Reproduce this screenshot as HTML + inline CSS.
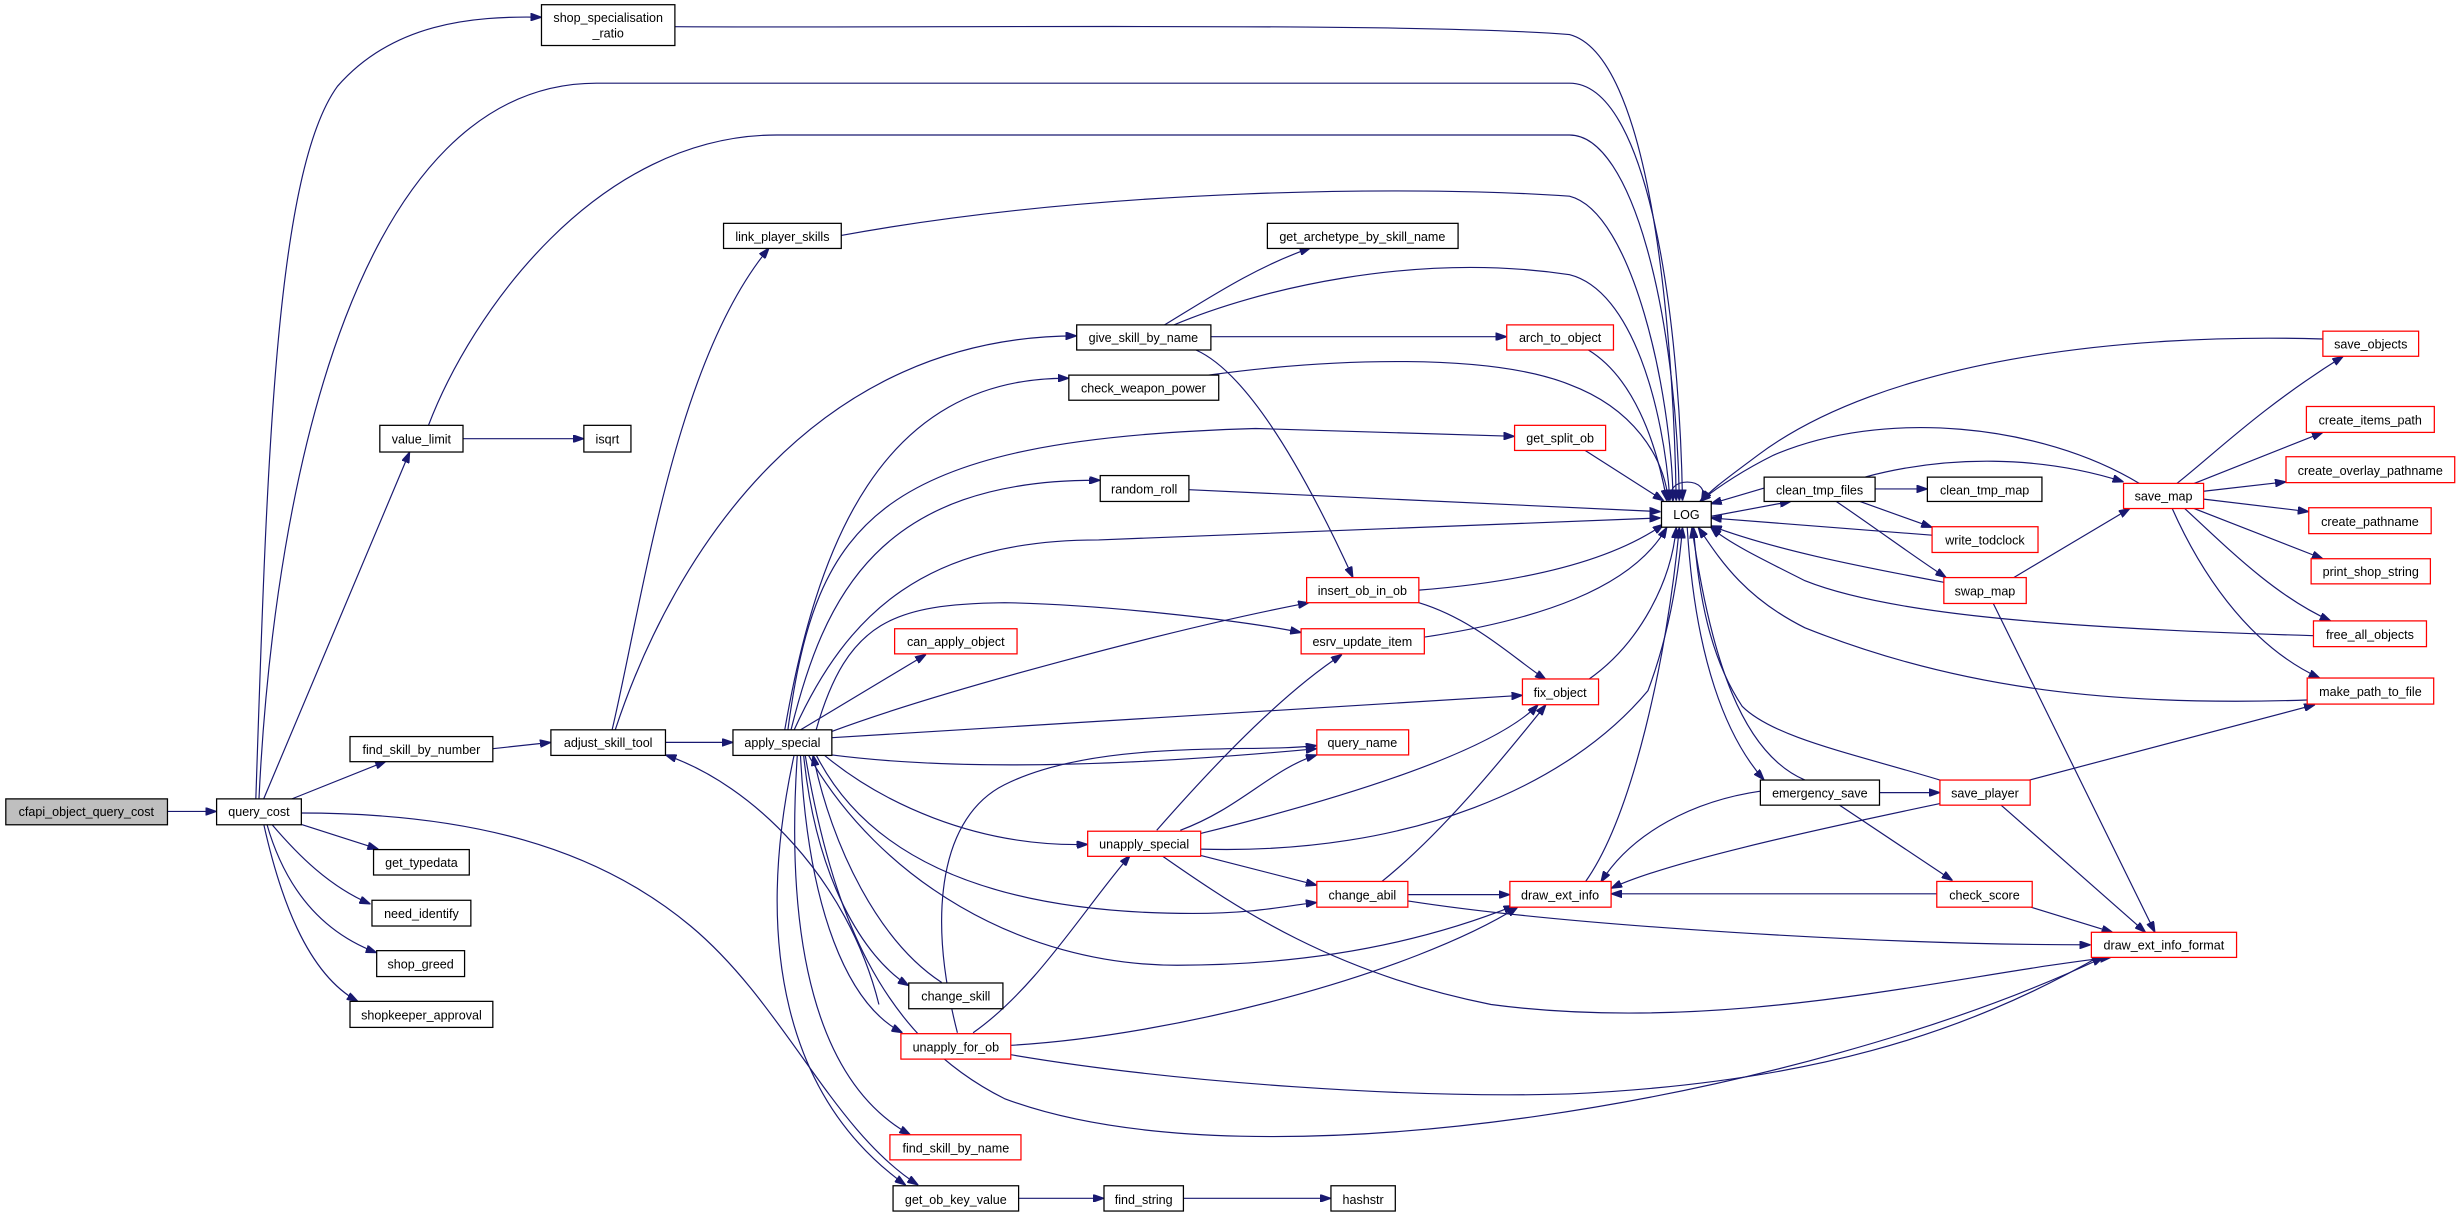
<!DOCTYPE html>
<html><head><meta charset="utf-8"><style>
html,body{margin:0;padding:0;background:#fff;}
svg{display:block;}
text{font-family:"Liberation Sans",sans-serif;font-size:8px;fill:#000;text-anchor:middle;}
.e{fill:none;stroke:#191970;stroke-width:0.75;}
.n{fill:#fff;stroke:#000;stroke-width:0.8;}
.r{fill:#fff;stroke:#ff0000;stroke-width:0.8;}
</style></head><body>
<svg width="2461" height="1217" viewBox="0 0 1568 775.4" preserveAspectRatio="none" xmlns="http://www.w3.org/2000/svg">
<defs><marker id="a" viewBox="0 0 10 7" refX="10" refY="3.5" markerWidth="7" markerHeight="5" markerUnits="userSpaceOnUse" orient="auto"><path d="M0,0 L10,3.5 L0,7 z" fill="#191970" stroke="#191970"/></marker></defs>
<g marker-end="url(#a)">
<path class="e" d="M106.7,517 L138,517"/>
<path class="e" d="M163,509 C170,300 175,110 215,55 C250,15 300,10 345,11"/>
<path class="e" d="M165,509 C175,300 230,53 380,53 L1000,53 C1050,53 1070,200 1072,319"/>
<path class="e" d="M273,271 C300,200 380,86 495,86 L1000,86 C1040,86 1068,200 1070,319"/>
<path class="e" d="M430,17 C600,18 900,14 1000,22 C1050,35 1066,200 1068,319"/>
<path class="e" d="M168,509 L261,288"/>
<path class="e" d="M295,279.5 L372,279.5"/>
<path class="e" d="M186,509 L246,485"/>
<path class="e" d="M314,477 L351,473"/>
<path class="e" d="M424,473 L467,473"/>
<path class="e" d="M191,525 L241,541"/>
<path class="e" d="M173,525 C190,545 210,565 236,576"/>
<path class="e" d="M170,525 C180,560 200,592 240,607"/>
<path class="e" d="M168,525 C178,570 195,620 228,638"/>
<path class="e" d="M191,518 C300,518 380,540 440,590 C500,640 530,720 585,755"/>
<path class="e" d="M390,465 C410,380 430,230 490,158"/>
<path class="e" d="M392,465 C430,350 520,214 686,214"/>
<path class="e" d="M536,150 C700,120 900,118 1000,125 C1040,135 1065,250 1066,319"/>
<path class="e" d="M742,207 C770,190 800,170 835,158"/>
<path class="e" d="M748,207 C800,185 900,160 1000,175 C1040,185 1060,260 1064,319"/>
<path class="e" d="M771.5,214.5 L960,214.5"/>
<path class="e" d="M762,223 C800,240 840,320 862,368"/>
<path class="e" d="M500,465 C520,350 560,240 681,241"/>
<path class="e" d="M770,239 C850,228 950,225 1000,245 C1040,260 1060,290 1063,319"/>
<path class="e" d="M1012,223 C1040,240 1055,280 1062,319"/>
<path class="e" d="M502,465 C520,330 560,280 800,273 L965,278"/>
<path class="e" d="M1010,287 L1060,319"/>
<path class="e" d="M504,465 C525,380 560,305 701,306"/>
<path class="e" d="M757.5,312 L1058,326"/>
<path class="e" d="M506,465 C540,390 590,344 700,344 L1058,330"/>
<path class="e" d="M530,466 C600,440 750,400 834,384"/>
<path class="e" d="M510,465 L590,417"/>
<path class="e" d="M520,465 C540,395 570,385 640,384 C700,385 790,395 829,403"/>
<path class="e" d="M530,470 L970,443"/>
<path class="e" d="M530,481 C600,490 700,490 839,477"/>
<path class="e" d="M525,481 C560,510 620,540 693,538"/>
<path class="e" d="M520,481 C550,540 620,582 760,582 C800,582 820,577 839,575"/>
<path class="e" d="M515,481 C560,560 650,615 750,615 C850,615 920,595 965,577"/>
<path class="e" d="M512,481 C520,560 550,610 579,628"/>
<path class="e" d="M510,481 C515,580 540,640 575,658"/>
<path class="e" d="M508,481 C500,600 520,690 580,723"/>
<path class="e" d="M506,481 C480,600 500,700 577,755"/>
<path class="e" d="M513,481 C530,580 560,660 640,700 C800,760 1150,700 1340,610"/>
<path class="e" d="M600,626 C560,600 530,540 518,481"/>
<path class="e" d="M560,640 C540,560 480,500 424,481"/>
<path class="e" d="M904,376 C980,370 1030,355 1060,334"/>
<path class="e" d="M904,384 C940,395 965,420 985,433"/>
<path class="e" d="M907,406 C980,395 1040,375 1062,336"/>
<path class="e" d="M1012,433 C1045,410 1065,370 1068,336"/>
<path class="e" d="M737,529 C780,480 820,440 855,417"/>
<path class="e" d="M752,529 C790,515 810,490 839,481"/>
<path class="e" d="M765,531 C850,510 950,480 980,449"/>
<path class="e" d="M765,541 C900,545 1000,500 1050,440 C1065,400 1070,360 1072,336"/>
<path class="e" d="M765,545 L839,564"/>
<path class="e" d="M740,545 C790,580 850,620 950,640 C1100,660 1250,620 1345,610"/>
<path class="e" d="M880,562 C920,530 960,480 985,449"/>
<path class="e" d="M897,570 L962,570"/>
<path class="e" d="M897,574 C1000,590 1200,602 1332,602"/>
<path class="e" d="M610,658 C590,580 600,520 640,500 C700,470 800,480 839,475"/>
<path class="e" d="M620,658 C660,630 690,580 720,545"/>
<path class="e" d="M644,666 C750,660 900,620 967,578"/>
<path class="e" d="M644,672 C750,690 900,700 1000,697 C1150,690 1250,660 1340,608"/>
<path class="e" d="M1010,562 C1040,520 1062,420 1070,336"/>
<path class="e" d="M1122,504 C1080,510 1040,530 1020,562"/>
<path class="e" d="M1197.5,505 L1236,505"/>
<path class="e" d="M1172,513 L1244,561"/>
<path class="e" d="M1075,336 C1080,420 1100,470 1124,497"/>
<path class="e" d="M1150,497 C1110,480 1090,420 1078,336"/>
<path class="e" d="M1090,329 L1141,319.5"/>
<path class="e" d="M1124,311 L1090,321"/>
<path class="e" d="M1194.7,311.5 L1228,311.5"/>
<path class="e" d="M1185,319.5 L1231,336"/>
<path class="e" d="M1170,319.5 C1200,340 1220,355 1240,368"/>
<path class="e" d="M1188,304 C1240,290 1300,290 1353,307"/>
<path class="e" d="M1231,341 L1090,330"/>
<path class="e" d="M1238.5,371 C1180,360 1130,350 1090,335"/>
<path class="e" d="M1283,368 L1357,324"/>
<path class="e" d="M1270,384.5 L1373,594"/>
<path class="e" d="M1363,308 C1300,270 1200,260 1130,290 C1110,300 1095,310 1083,319.5"/>
<path class="e" d="M1387,308 C1410,290 1440,260 1493,227"/>
<path class="e" d="M1398,308 L1480,275.5"/>
<path class="e" d="M1404,313 L1456.5,307"/>
<path class="e" d="M1404,318 L1471,326"/>
<path class="e" d="M1398,324 L1480,356"/>
<path class="e" d="M1392,324 C1420,350 1450,380 1485,395.6"/>
<path class="e" d="M1384,324 C1400,360 1430,410 1478,432"/>
<path class="e" d="M1480,216 C1350,212 1200,230 1120,290 C1100,305 1090,312 1084,319.5"/>
<path class="e" d="M1474,405 C1300,400 1200,390 1150,370 C1120,355 1100,345 1090,336"/>
<path class="e" d="M1470,446 C1350,450 1250,440 1150,400 C1110,380 1095,355 1082,336"/>
<path class="e" d="M1236,497 C1180,480 1130,470 1110,450 C1090,420 1082,380 1079,336"/>
<path class="e" d="M1293,497 L1475,449"/>
<path class="e" d="M1236,512 C1150,530 1060,550 1026.5,566"/>
<path class="e" d="M1275,513 L1367,594"/>
<path class="e" d="M1234,569.5 L1026.5,569.5"/>
<path class="e" d="M1294,578 L1346,594"/>
<path class="e" d="M1066,319.5 C1058,303 1092,303 1084,319.5"/>
<path class="e" d="M649,763.5 L703.4,763.5"/>
<path class="e" d="M754,763.5 L848,763.5"/>
</g>
<g>
<rect x="3.7" y="509" width="103" height="16.5" fill="#bfbfbf" stroke="#000" stroke-width="0.8"/><text x="55" y="520">cfapi_object_query_cost</text>
<rect class="n" x="138" y="509" width="54" height="16.5"/><text x="165" y="520">query_cost</text>
<rect class="n" x="345" y="3" width="85" height="26"/><text x="387.5" y="14">shop_specialisation</text><text x="387.5" y="24">_ratio</text>
<rect class="n" x="242" y="271" width="53" height="17"/><text x="268.5" y="282.5">value_limit</text>
<rect class="n" x="372" y="271" width="30" height="17"/><text x="387" y="282.5">isqrt</text>
<rect class="n" x="223" y="469.3" width="91" height="16"/><text x="268.5" y="480.5">find_skill_by_number</text>
<rect class="n" x="351" y="465" width="73" height="16.3"/><text x="387.5" y="476">adjust_skill_tool</text>
<rect class="n" x="467" y="465" width="63" height="16.3"/><text x="498.5" y="476">apply_special</text>
<rect class="n" x="238" y="541.3" width="61" height="16.2"/><text x="268.5" y="552.5">get_typedata</text>
<rect class="n" x="237" y="573.6" width="63" height="16.4"/><text x="268.5" y="585">need_identify</text>
<rect class="n" x="240" y="605.7" width="56" height="16.5"/><text x="268" y="617">shop_greed</text>
<rect class="n" x="223" y="638" width="91" height="16.6"/><text x="268.5" y="649.5">shopkeeper_approval</text>
<rect class="n" x="461" y="142.3" width="75" height="16"/><text x="498.5" y="153.5">link_player_skills</text>
<rect class="n" x="807.5" y="142.3" width="121.5" height="16"/><text x="868" y="153.5">get_archetype_by_skill_name</text>
<rect class="n" x="686" y="207" width="85.5" height="16"/><text x="728.5" y="218">give_skill_by_name</text>
<rect class="r" x="960" y="207" width="68" height="16"/><text x="994" y="218">arch_to_object</text>
<rect class="n" x="681" y="239" width="95.5" height="16"/><text x="728.5" y="250">check_weapon_power</text>
<rect class="r" x="965" y="271" width="58" height="16"/><text x="994" y="282">get_split_ob</text>
<rect class="n" x="701" y="303" width="56.5" height="16.5"/><text x="729" y="314.5">random_roll</text>
<rect class="r" x="832.5" y="368" width="71.5" height="16"/><text x="868" y="379">insert_ob_in_ob</text>
<rect class="r" x="570" y="400.6" width="78" height="16"/><text x="609" y="411.6">can_apply_object</text>
<rect class="r" x="829" y="400.6" width="78.5" height="16"/><text x="868" y="411.6">esrv_update_item</text>
<rect class="r" x="970" y="432.6" width="48.5" height="16.4"/><text x="994" y="444">fix_object</text>
<rect class="r" x="839" y="465" width="58.5" height="16"/><text x="868" y="476">query_name</text>
<rect class="r" x="693" y="529.6" width="72" height="16"/><text x="729" y="540.6">unapply_special</text>
<rect class="r" x="839" y="561.6" width="58" height="16.4"/><text x="868" y="573">change_abil</text>
<rect class="r" x="962" y="561.6" width="64.5" height="16.4"/><text x="994" y="573">draw_ext_info</text>
<rect class="n" x="579" y="626.3" width="60" height="16.4"/><text x="609" y="637.6">change_skill</text>
<rect class="r" x="574" y="658.6" width="70" height="16.2"/><text x="609" y="670">unapply_for_ob</text>
<rect class="r" x="567" y="723" width="83.5" height="16"/><text x="609" y="734.3">find_skill_by_name</text>
<rect class="n" x="569" y="755.5" width="80" height="16.1"/><text x="609" y="767">get_ob_key_value</text>
<rect class="n" x="703.4" y="755.5" width="50.6" height="16.1"/><text x="728.7" y="767">find_string</text>
<rect class="n" x="848" y="755.5" width="41" height="16.1"/><text x="868.5" y="767">hashstr</text>
<rect class="n" x="1058.6" y="319.5" width="31.7" height="16.4"/><text x="1074.5" y="330.8">LOG</text>
<rect class="n" x="1124" y="304" width="70.7" height="15.5"/><text x="1159.3" y="315">clean_tmp_files</text>
<rect class="n" x="1228" y="304" width="73" height="15.5"/><text x="1264.5" y="315">clean_tmp_map</text>
<rect class="r" x="1231" y="335.6" width="67.5" height="16.4"/><text x="1264.7" y="347">write_todclock</text>
<rect class="r" x="1238.5" y="368" width="52.5" height="16.5"/><text x="1264.7" y="379.5">swap_map</text>
<rect class="r" x="1353" y="308" width="51" height="16"/><text x="1378.5" y="319">save_map</text>
<rect class="r" x="1480" y="211" width="61" height="16"/><text x="1510.5" y="222">save_objects</text>
<rect class="r" x="1469.5" y="259" width="81.5" height="16.5"/><text x="1510.2" y="270.5">create_items_path</text>
<rect class="r" x="1456.5" y="291" width="107.5" height="16.5"/><text x="1510.2" y="302.5">create_overlay_pathname</text>
<rect class="r" x="1471" y="323.5" width="78" height="16.5"/><text x="1510" y="335">create_pathname</text>
<rect class="r" x="1472.5" y="356" width="76" height="16"/><text x="1510.5" y="367">print_shop_string</text>
<rect class="r" x="1474" y="395.6" width="72" height="16.4"/><text x="1510" y="407">free_all_objects</text>
<rect class="r" x="1470" y="432" width="80.6" height="16.6"/><text x="1510.3" y="443.5">make_path_to_file</text>
<rect class="n" x="1121.6" y="497" width="75.9" height="16"/><text x="1159.5" y="508">emergency_save</text>
<rect class="r" x="1236" y="497" width="57.5" height="16"/><text x="1264.7" y="508">save_player</text>
<rect class="r" x="1234" y="561.6" width="60.8" height="16.4"/><text x="1264.4" y="573">check_score</text>
<rect class="r" x="1332.5" y="594" width="92.5" height="16"/><text x="1378.7" y="605">draw_ext_info_format</text>
</g>
</svg>
</body></html>
